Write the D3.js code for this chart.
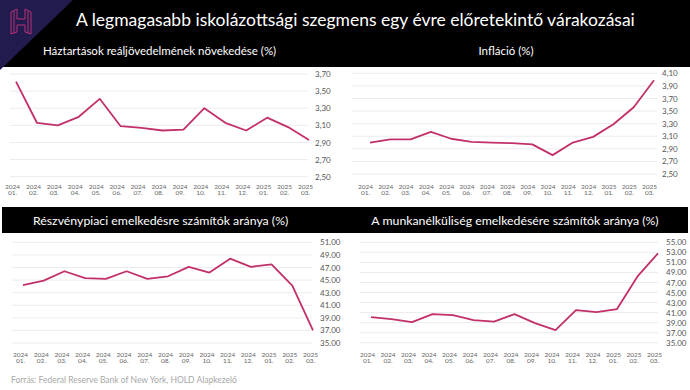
<!DOCTYPE html>
<html>
<head>
<meta charset="utf-8">
<script src="https://cdn.jsdelivr.net/npm/d3@7"></script>
<style>
	body { margin: 0; background: #fff; }
	svg { display: block; font-family: Lato, "Open Sans", sans-serif; }
</style>
</head>
<body>
<div id="chart"></div>
<script>
"use strict";

// months on the x axis (year / month)
const years = ["2024", "2024", "2024", "2024", "2024", "2024", "2024", "2024", "2024", "2024", "2024", "2024", "2025", "2025", "2025"];
const months = ["01.", "02.", "03.", "04.", "05.", "06.", "07.", "08.", "09.", "10.", "11.", "12.", "01.", "02.", "03."];

// series
const incomeGrowth = [3.61, 3.13, 3.10, 3.20, 3.41, 3.09, 3.07, 3.04, 3.05, 3.30, 3.13, 3.04, 3.19, 3.08, 2.93];
const inflation = [3.00, 3.05, 3.05, 3.17, 3.06, 3.01, 3.00, 2.99, 2.97, 2.80, 3.00, 3.09, 3.29, 3.56, 3.99];
const stockRise = [44.2, 44.9, 46.4, 45.3, 45.2, 46.4, 45.2, 45.6, 47.1, 46.2, 48.4, 47.1, 47.5, 44.1, 37.0];
const unemploymentRise = [40.1, 39.7, 39.1, 40.7, 40.5, 39.5, 39.2, 40.7, 38.9, 37.5, 41.5, 41.1, 41.7, 48.2, 52.8];

// tick values
const incomeTicks = [2.5, 2.7, 2.9, 3.1, 3.3, 3.5, 3.7];
const inflationTicks = [2.5, 2.7, 2.9, 3.1, 3.3, 3.5, 3.7, 3.9, 4.1];
const stockTicks = [35, 37, 39, 41, 43, 45, 47, 49, 51];
const unemploymentTicks = [35, 37, 39, 41, 43, 45, 47, 49, 51, 53, 55];

const W = 690, H = 390;
const lineColor = "#c2306a";
const pink = "#c8337a";

const svg = d3.select("#chart").append("svg")
	.attr("width", W)
	.attr("height", H);

// header background
svg.append("rect").attr("x", 0).attr("y", 0).attr("width", W).attr("height", 67).attr("fill", "#000");
svg.append("path").attr("d", "M0,0 L73,0 L0,70 Z").attr("fill", "#221c4e");

// logo (outlined H)
let logo = svg.append("g").attr("transform", "translate(11,9)")
	.attr("fill", "none").attr("stroke", pink).attr("stroke-width", 0.9)
	.attr("stroke-linejoin", "miter");
logo.append("path").attr("d", "M0,3 L6,0 L6,10 L14,10 L14,0 L20,3 L20,25 L14,23 L14,16 L6,16 L6,23 L0,25 Z");
logo.append("path").attr("d", "M3,2 L3,24 M17,2 L17,24");

svg.append("text")
	.attr("x", 76).attr("y", 26)
	.attr("fill", "#fff")
	.style("font-size", "17.5px")
	.text("A legmagasabb iskolázottsági szegmens egy évre előretekintő várakozásai");

// bottom title band
svg.append("rect").attr("x", 2).attr("y", 207).attr("width", W - 4).attr("height", 26).attr("fill", "#000");

// panel titles
svg.append("text").attr("x", 43).attr("y", 55).attr("fill", "#fff").style("font-size", "11.5px")
	.text("Háztartások reáljövedelmének növekedése (%)");
svg.append("text").attr("x", 506).attr("y", 55).attr("fill", "#fff").attr("text-anchor", "middle").style("font-size", "11.5px")
	.text("Infláció (%)");
svg.append("text").attr("x", 33).attr("y", 225).attr("fill", "#fff").style("font-size", "12.3px")
	.text("Részvénypiaci emelkedésre számítók aránya (%)");
svg.append("text").attr("x", 515).attr("y", 225).attr("fill", "#fff").attr("text-anchor", "middle").style("font-size", "12.3px")
	.text("A munkanélküliség emelkedésére számítók aránya (%)");

// footer
svg.append("text").attr("x", 11).attr("y", 383).attr("fill", "#a8a8a8").style("font-size", "8.5px")
	.text("Forrás: Federal Reserve Bank of New York, HOLD Alapkezelő");

function drawPanel(values, ticks, cfg) {
	let g = svg.append("g");

	let x = d3.scalePoint()
		.domain(d3.range(values.length))
		.range([cfg.x0, cfg.x1]);

	let y = d3.scaleLinear()
		.domain([ticks[0], ticks[ticks.length - 1]])
		.range([cfg.yBottom, cfg.yTop]);

	// gridlines
	g.selectAll("line.grid")
		.data(ticks)
		.enter()
		.append("line")
		.attr("class", "grid")
		.attr("x1", cfg.gx0)
		.attr("x2", cfg.gx1)
		.attr("y1", d => y(d))
		.attr("y2", d => y(d))
		.style("stroke", "#ececec")
		.style("stroke-width", "1px");

	// y axis on the right
	let yAxis = g.append("g")
		.attr("transform", "translate(" + cfg.gx1 + ",0)")
		.call(d3.axisRight(y).tickValues(ticks).tickSize(0).tickPadding(cfg.yPad)
			.tickFormat(d => d3.format(".2f")(d).replace(".", cfg.decimal)));
	yAxis.select(".domain").remove();
	yAxis.selectAll("text")
		.style("font-size", "8px")
		.style("font-family", "Lato, sans-serif")
		.attr("fill", "#555");

	// x axis (two-line labels)
	let xAxis = g.append("g")
		.attr("transform", "translate(" + cfg.xLabelShift + "," + cfg.xAxisY + ")")
		.call(d3.axisBottom(x).tickSize(0).tickPadding(0).tickFormat(i => years[i]));
	xAxis.select(".domain").remove();
	xAxis.selectAll("text")
		.style("font-size", "6.5px")
		.style("font-family", "Lato, sans-serif")
		.attr("fill", "#666")
		.each(function (i) {
			let t = d3.select(this);
			t.text(null);
			t.append("tspan").attr("x", 0).attr("dy", "0.71em").text(years[i]);
			t.append("tspan").attr("x", 0).attr("dy", "0.95em").text(months[i]);
		});

	let line = d3.line()
		.x((d, i) => x(i))
		.y(d => y(d));

	g.append("path")
		.datum(values)
		.attr("d", line)
		.style("fill", "none")
		.style("stroke", lineColor)
		.style("stroke-width", "1.8px")
		.style("stroke-linejoin", "round");
}

drawPanel(incomeGrowth, incomeTicks, {
	x0: 16, x1: 309, gx0: 10, gx1: 308, yTop: 74, yBottom: 176.7,
	yPad: 7, decimal: ",", xAxisY: 184, xLabelShift: -4
});

drawPanel(inflation, inflationTicks, {
	x0: 370, x1: 654, gx0: 352, gx1: 657, yTop: 73.3, yBottom: 174,
	yPad: 5, decimal: ",", xAxisY: 184, xLabelShift: -5
});

drawPanel(stockRise, stockTicks, {
	x0: 23, x1: 313, gx0: 12, gx1: 312, yTop: 242.3, yBottom: 343,
	yPad: 8, decimal: ".", xAxisY: 352, xLabelShift: -3
});

drawPanel(unemploymentRise, unemploymentTicks, {
	x0: 371, x1: 658, gx0: 360, gx1: 658, yTop: 242.3, yBottom: 342.7,
	yPad: 8, decimal: ".", xAxisY: 352, xLabelShift: -4
});
</script>
</body>
</html>
